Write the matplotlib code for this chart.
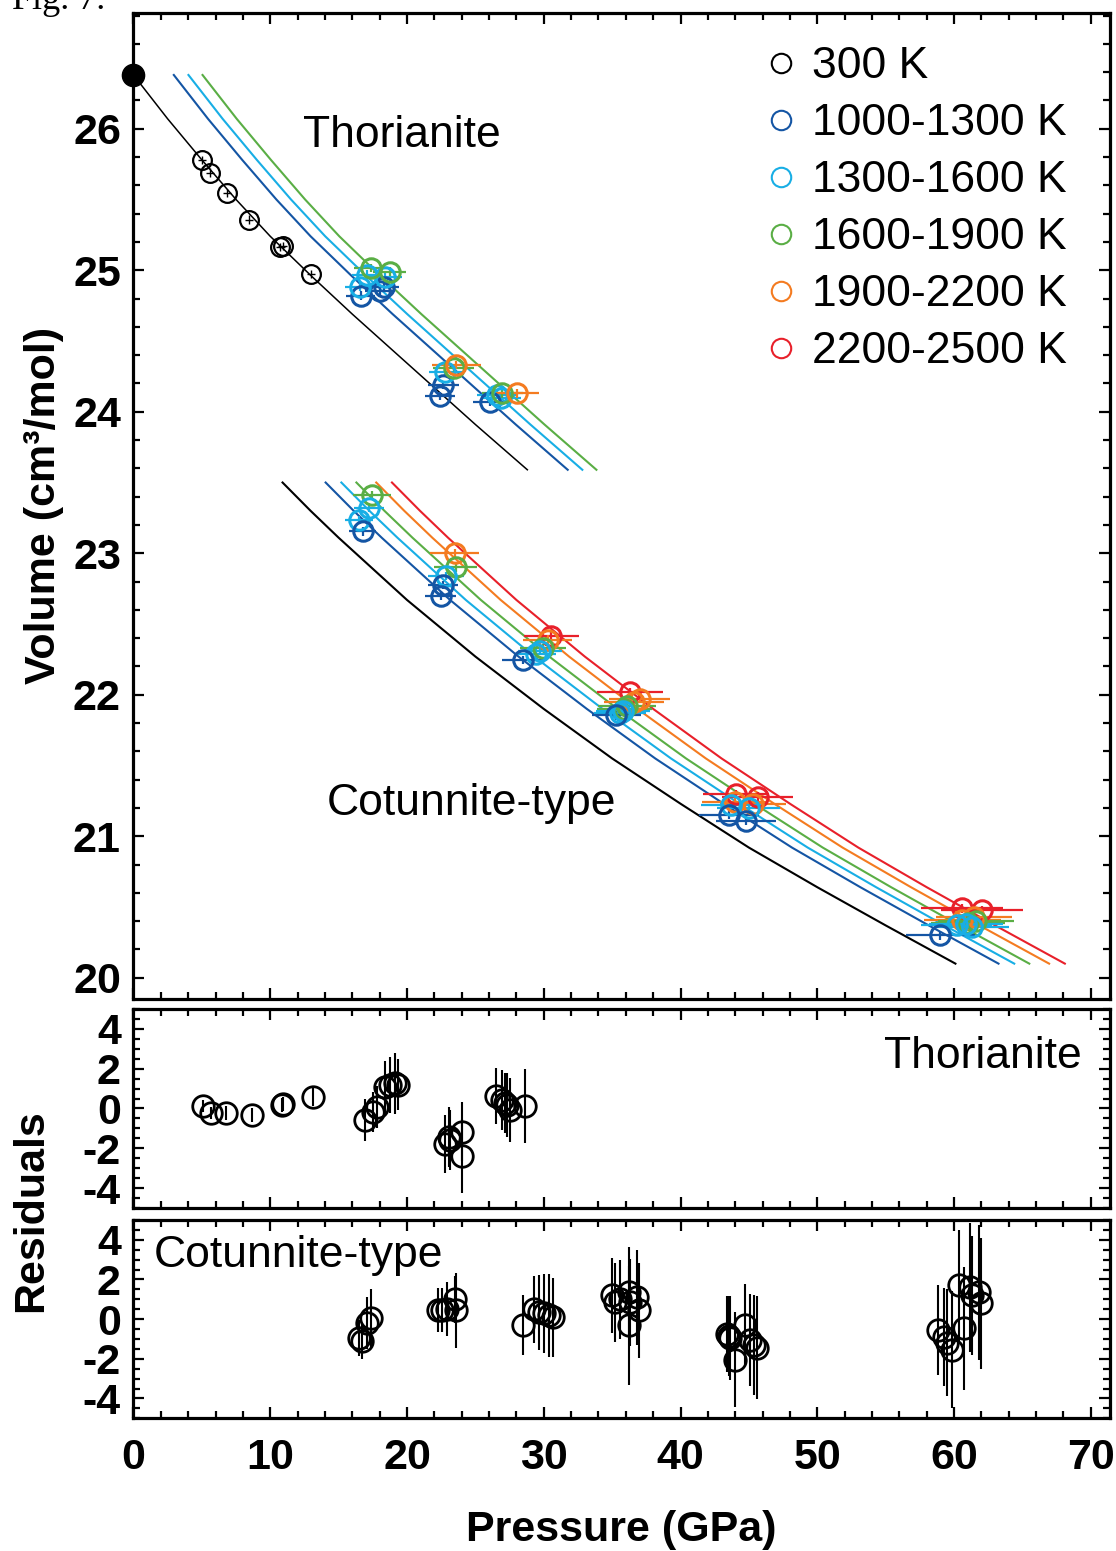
import matplotlib.pyplot as plt
from matplotlib.lines import Line2D
from matplotlib.ticker import MultipleLocator

plt.rcParams['font.family'] = ['Liberation Sans', 'DejaVu Sans']
plt.rcParams['axes.unicode_minus'] = False

# colours of the temperature bins
c300 = 'black'
c1000 = '#1455a4'
c1300 = '#18aee5'
c1600 = '#5aae45'
c1900 = '#f47b20'
c2200 = '#e8202a'

legend_labels = ['300 K', '1000-1300 K', '1300-1600 K', '1600-1900 K', '1900-2200 K', '2200-2500 K']

# ---- thorianite, volume vs pressure ----
th_P0 = 0.0
th_V0 = 26.38
th300_P = [5.0, 5.6, 6.85, 8.45, 10.75, 10.9, 13.0]
th300_V = [25.78, 25.69, 25.545, 25.358, 25.165, 25.17, 24.975]
th300_Perr = [0.3, 0.3, 0.3, 0.3, 0.3, 0.3, 0.3]

th1000_P = [16.6, 18.05, 18.3, 22.4, 22.65, 26.1]
th1000_V = [24.82, 24.855, 24.88, 24.11, 24.19, 24.07]
th1000_Perr = [1.05, 1.1, 1.1, 1.1, 1.15, 1.3]
th1300_P = [16.55, 17.05, 18.4, 22.8, 26.55, 26.9]
th1300_V = [24.88, 24.97, 24.95, 24.28, 24.12, 24.10]
th1300_Perr = [1.1, 1.1, 1.2, 1.2, 1.4, 1.4]
th1600_P = [17.35, 18.75, 23.4, 26.95]
th1600_V = [25.015, 24.99, 24.31, 24.13]
th1600_Perr = [1.2, 1.2, 1.5, 1.5]
th1900_P = [23.6, 28.05]
th1900_V = [24.33, 24.13]
th1900_Perr = [1.8, 1.6]

# fitted isotherms, thorianite
thfit_V = [26.38, 26.07, 25.78, 25.50, 25.24, 24.96, 24.69, 24.43, 24.17, 23.91, 23.59]
thfit300_P = [0, 2.5, 5.0, 7.5, 10.0, 13.0, 16.0, 19.0, 22.0, 25.0, 28.8]
thfit1000_P = [2.95, 5.45, 7.95, 10.45, 12.95, 15.95, 18.95, 21.95, 24.95, 27.95, 31.75]
thfit1300_P = [4.02, 6.52, 9.02, 11.52, 14.02, 17.02, 20.02, 23.02, 26.02, 29.02, 32.82]
thfit1600_P = [5.05, 7.55, 10.05, 12.55, 15.05, 18.05, 21.05, 24.05, 27.05, 30.05, 33.85]

# ---- cotunnite-type ----
co1000_P = [16.75, 22.45, 22.65, 28.45, 35.3, 43.55, 44.8, 59.0]
co1000_V = [23.155, 22.70, 22.775, 22.245, 21.855, 21.15, 21.11, 20.30]
co1000_Perr = [1.0, 1.1, 1.1, 1.5, 1.8, 2.2, 2.2, 2.5]
co1300_P = [16.5, 17.2, 22.85, 29.4, 29.7, 35.6, 35.8, 43.7, 45.0, 60.2, 60.9, 61.3]
co1300_V = [23.235, 23.32, 22.84, 22.29, 22.31, 21.87, 21.885, 21.22, 21.2, 20.37, 20.38, 20.36]
co1300_Perr = [1.0, 1.1, 1.3, 1.5, 1.6, 1.9, 2.0, 2.2, 2.3, 2.6, 2.7, 2.7]
co1600_P = [17.45, 23.55, 29.95, 35.9, 36.1, 61.0, 61.6]
co1600_V = [23.41, 22.90, 22.33, 21.90, 21.92, 20.39, 20.40]
co1600_Perr = [1.4, 1.6, 1.7, 2.0, 2.1, 2.7, 2.8]
co1900_P = [23.5, 30.3, 36.6, 37.0, 44.0, 45.3, 60.6, 61.45]
co1900_V = [23.0, 22.39, 21.95, 21.97, 21.24, 21.23, 20.41, 20.43]
co1900_Perr = [1.8, 1.8, 2.2, 2.2, 2.4, 2.4, 2.8, 2.8]
co2200_P = [30.55, 36.3, 44.05, 45.65, 60.6, 62.05]
co2200_V = [22.415, 22.02, 21.30, 21.28, 20.49, 20.48]
co2200_Perr = [2.0, 2.4, 2.4, 2.6, 3.0, 3.0]

# fitted isotherms, cotunnite-type
cofit_V = [23.50, 23.30, 23.11, 22.67, 22.27, 21.90, 21.55, 21.23, 20.92, 20.64, 20.37, 20.10]
cofit300_P = [10.9, 12.95, 15, 20, 25, 30, 35, 40, 45, 50, 55, 60.1]
cofit1000_P = [14.05, 16.1, 18.15, 23.15, 28.15, 33.15, 38.15, 43.15, 48.15, 53.15, 58.15, 63.25]
cofit1300_P = [15.2, 17.25, 19.3, 24.3, 29.3, 34.3, 39.3, 44.3, 49.3, 54.3, 59.3, 64.4]
cofit1600_P = [16.3, 18.35, 20.4, 25.4, 30.4, 35.4, 40.4, 45.4, 50.4, 55.4, 60.4, 65.5]
cofit1900_P = [17.75, 19.8, 21.85, 26.85, 31.85, 36.85, 41.85, 46.85, 51.85, 56.85, 61.85, 66.95]
cofit2200_P = [18.9, 20.95, 23.0, 28.0, 33.0, 38.0, 43.0, 48.0, 53.0, 58.0, 63.0, 68.1]

# ---- residuals ----
rt_P = [5.05, 5.7, 6.8, 8.65, 10.85, 10.95, 13.15,
        16.9, 17.55, 17.8, 18.4, 18.75, 19.1, 19.35,
        22.8, 23.05, 23.15, 24.0, 24.0,
        26.5, 26.95, 27.2, 27.3, 27.55, 28.65]
rt_R = [0.12, -0.24, -0.24, -0.33, 0.17, 0.22, 0.56,
        -0.58, -0.16, 0.09, 1.09, 1.18, 1.26, 1.2,
        -1.78, -1.44, -1.58, -1.16, -2.38,
        0.63, 0.43, 0.26, 0.18, -0.08, 0.13]
rt_err = [0.3, 0.3, 0.35, 0.35, 0.35, 0.35, 0.45,
          1.05, 1.0, 1.05, 1.3, 1.4, 1.55, 1.3,
          1.45, 1.5, 1.5, 1.5, 1.85,
          1.4, 1.5, 1.5, 1.6, 1.6, 1.85]

rc_P = [16.5, 16.7, 17.05, 17.4,
        22.3, 22.55, 22.9, 23.5, 23.55,
        28.45, 29.3, 29.65, 30.0, 30.35, 30.65,
        35.0, 35.2, 35.6, 36.2, 36.3, 36.8, 36.95, 36.2,
        43.4, 43.55, 43.65, 44.0, 44.75, 45.1, 45.35, 45.6,
        58.85, 59.25, 59.5, 59.85, 60.7, 60.35, 61.2, 61.3, 61.8, 61.95]
rc_R = [-0.95, -1.1, -0.2, 0.05,
        0.45, 0.45, 0.5, 1.0, 0.45,
        -0.3, 0.5, 0.35, 0.3, 0.2, 0.1,
        1.2, 0.85, 1.0, 1.35, 0.85, 1.1, 0.45, -0.3,
        -0.75, -0.85, -0.95, -2.05, -0.3, -1.05, -1.3, -1.45,
        -0.55, -0.9, -1.2, -1.55, -0.45, 1.7, 1.6, 1.2, 1.35, 0.8]
rc_err = [0.9, 0.9, 1.3, 1.45,
          1.1, 1.1, 1.35, 1.2, 1.9,
          1.5, 1.7, 1.9, 2.0, 2.1, 2.0,
          1.9, 2.0, 2.0, 2.3, 2.2, 2.4, 2.4, 3.0,
          1.9, 2.0, 2.1, 2.4, 2.05, 2.3, 2.5, 2.6,
          2.25, 2.45, 2.7, 2.95, 3.1, 2.8, 3.25, 3.0, 3.4, 3.3]


def style(a, ymaj, ymin):
    a.set_xlim(0, 71.4)
    a.xaxis.set_major_locator(MultipleLocator(10))
    a.xaxis.set_minor_locator(MultipleLocator(2))
    a.yaxis.set_major_locator(MultipleLocator(ymaj))
    a.yaxis.set_minor_locator(MultipleLocator(ymin))
    a.tick_params(which='both', direction='in', top=True, right=True, width=1.6)
    a.tick_params(which='major', length=8, labelsize=31)
    a.tick_params(axis='y', which='major', pad=9)
    a.tick_params(axis='x', which='major', pad=14)
    a.tick_params(which='minor', length=5)
    for s in a.spines.values():
        s.set_linewidth(2.3)
    for lab in a.get_xticklabels() + a.get_yticklabels():
        lab.set_fontweight('bold')


fig = plt.figure(figsize=(11.16, 15.51), dpi=100)

ax = fig.add_axes([0.1196, 0.3559, 0.8750, 0.6359])
ax.set_ylim(19.85, 26.82)

# isotherms
ax.plot(thfit300_P, thfit_V, color=c300, lw=1.1, zorder=2)
ax.plot(thfit1000_P, thfit_V, color=c1000, lw=1.5, zorder=2)
ax.plot(thfit1300_P, thfit_V, color=c1300, lw=1.5, zorder=2)
ax.plot(thfit1600_P, thfit_V, color=c1600, lw=1.5, zorder=2)
ax.plot(cofit300_P, cofit_V, color=c300, lw=1.5, zorder=2)
ax.plot(cofit1000_P, cofit_V, color=c1000, lw=1.5, zorder=2)
ax.plot(cofit1300_P, cofit_V, color=c1300, lw=1.5, zorder=2)
ax.plot(cofit1600_P, cofit_V, color=c1600, lw=1.5, zorder=2)
ax.plot(cofit1900_P, cofit_V, color=c1900, lw=1.5, zorder=2)
ax.plot(cofit2200_P, cofit_V, color=c2200, lw=1.5, zorder=2)

# data
ax.errorbar(th300_P, th300_V, xerr=th300_Perr, yerr=0.03, fmt='o', mfc='none', mec=c300,
            ms=13.5, mew=1.6, ecolor=c300, elinewidth=1.0, capsize=0, zorder=3)
ax.plot([th_P0], [th_V0], 'o', color='black', ms=16, clip_on=False, zorder=5)

sets = [
    (th1000_P, th1000_V, th1000_Perr, c1000),
    (th1300_P, th1300_V, th1300_Perr, c1300),
    (th1600_P, th1600_V, th1600_Perr, c1600),
    (th1900_P, th1900_V, th1900_Perr, c1900),
    (co2200_P, co2200_V, co2200_Perr, c2200),
    (co1900_P, co1900_V, co1900_Perr, c1900),
    (co1600_P, co1600_V, co1600_Perr, c1600),
    (co1300_P, co1300_V, co1300_Perr, c1300),
    (co1000_P, co1000_V, co1000_Perr, c1000),
]
for P, V, Pe, c in sets:
    ax.errorbar(P, V, xerr=Pe, yerr=0.03, fmt='o', mfc='none', mec=c, ms=14, mew=2.2,
                ecolor=c, elinewidth=1.6, capsize=0, zorder=3)

ax.text(12.4, 25.87, 'Thorianite', fontsize=32, va='baseline', ha='left')
ax.text(14.1, 21.15, 'Cotunnite-type', fontsize=32, va='baseline', ha='left')

handles = [Line2D([], [], ls='none', marker='o', mfc='none', mec=c, ms=14, mew=1.5)
           for c in [c300, c1000, c1300, c1600, c1900, c2200]]
ax.legend(handles, legend_labels, loc='upper left', bbox_to_anchor=(0.6445, 0.966),
          frameon=False, fontsize=32, handlelength=0.8, handletextpad=0.3,
          borderpad=0, borderaxespad=0, labelspacing=0.36)

style(ax, 1, 0.2)
ax.tick_params(labelbottom=False)

# residuals, thorianite
ax1 = fig.add_axes([0.1196, 0.22115, 0.8750, 0.1283])
ax1.set_ylim(-5, 5)
ax1.errorbar(rt_P, rt_R, yerr=rt_err, fmt='o', mfc='none', mec='black', ms=15.5, mew=2.0,
             ecolor='black', elinewidth=1.5, capsize=0)
ax1.text(54.9, 2.03, 'Thorianite', fontsize=32, va='baseline', ha='left')
style(ax1, 2, 0.5)
ax1.tick_params(labelbottom=False)

# residuals, cotunnite-type
ax2 = fig.add_axes([0.1196, 0.08556, 0.8750, 0.12785])
ax2.set_ylim(-5, 5)
ax2.errorbar(rc_P, rc_R, yerr=rc_err, fmt='o', mfc='none', mec='black', ms=15.5, mew=2.0,
             ecolor='black', elinewidth=1.5, capsize=0)
ax2.text(1.5, 2.65, 'Cotunnite-type', fontsize=32, va='baseline', ha='left')
style(ax2, 2, 0.5)

fig.text(621.7 / 1116, 1 - 1541 / 1551, 'Pressure (GPa)', fontsize=31, fontweight='bold',
         ha='center', va='baseline')
fig.text(55 / 1116, 1 - 505 / 1551, 'Volume (cm\u00b3/mol)', fontsize=31, fontweight='bold',
         ha='center', va='baseline', rotation=90, rotation_mode='anchor')
fig.text(42 / 1116, 1 - 1211 / 1551, 'Residuals', fontsize=31, fontweight='bold',
         ha='center', va='baseline', rotation=90, rotation_mode='anchor')
fig.text(12 / 1116, 1 - 9 / 1551, 'Fig. 7.', fontsize=26, family='Liberation Serif',
         ha='left', va='baseline')

fig.savefig('out.png', dpi=100)
